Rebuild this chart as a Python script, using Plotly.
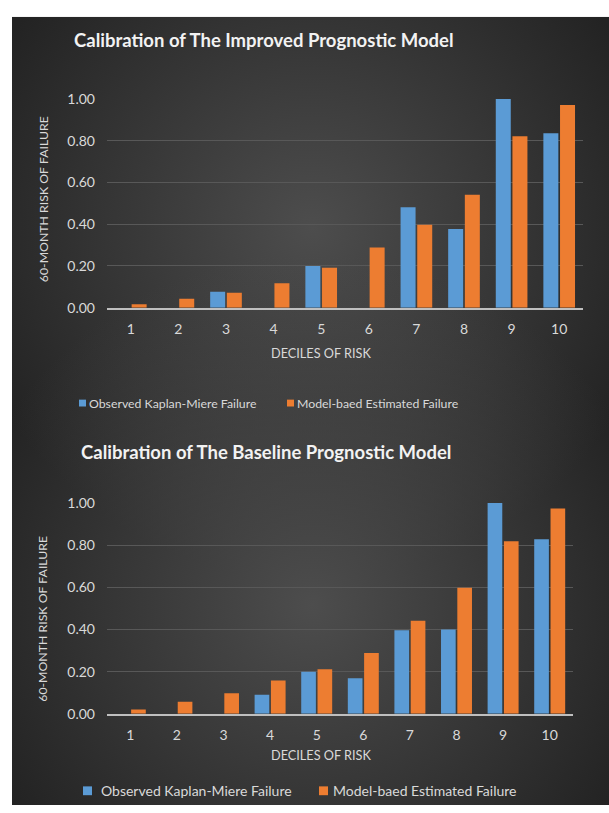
import base64
import plotly.graph_objects as go

# ---- data -------------------------------------------------------------
deciles = ["1", "2", "3", "4", "5", "6", "7", "8", "9", "10"]

improved_observed = [0.0, 0.0, 0.076, 0.0, 0.200, 0.0, 0.481, 0.377, 1.000, 0.836]
improved_model = [0.016, 0.043, 0.071, 0.117, 0.192, 0.289, 0.398, 0.542, 0.822, 0.972]

baseline_observed = [0.0, 0.0, 0.0, 0.090, 0.200, 0.169, 0.396, 0.400, 1.000, 0.828]
baseline_model = [0.020, 0.057, 0.098, 0.158, 0.212, 0.289, 0.442, 0.598, 0.819, 0.974]

y_ticks = [0.0, 0.2, 0.4, 0.6, 0.8, 1.0]

observed_name = "Observed Kaplan-Miere Failure"
model_name = "Model-baed Estimated Failure"
title_top = "Calibration of The Improved Prognostic Model"
title_bottom = "Calibration of The Baseline Prognostic Model"
y_title = "60-MONTH RISK OF FAILURE"
x_title = "DECILES OF RISK"

# ---- style ------------------------------------------------------------
W, H = 609, 813
BLUE = "#5b9bd5"
ORANGE = "#ed7d31"
TEXT = "#d9d9d9"
TITLE = "#f2f2f2"
GRID = "#585858"
AXIS = "#bfbfbf"
FONT = "Lato"


def px(x):
    return x / W


def py(y):
    return 1 - y / H


fig = go.Figure()

bar_style = dict(marker_line_width=0, showlegend=False)
fig.add_trace(go.Bar(x=deciles, y=improved_observed, name=observed_name,
                     marker_color=BLUE, xaxis="x", yaxis="y", **bar_style))
fig.add_trace(go.Bar(x=deciles, y=improved_model, name=model_name,
                     marker_color=ORANGE, xaxis="x", yaxis="y", **bar_style))
fig.add_trace(go.Bar(x=deciles, y=baseline_observed, name=observed_name,
                     marker_color=BLUE, xaxis="x2", yaxis="y2", **bar_style))
fig.add_trace(go.Bar(x=deciles, y=baseline_model, name=model_name,
                     marker_color=ORANGE, xaxis="x2", yaxis="y2", **bar_style))

common_x = dict(
    type="category", showgrid=False, zeroline=False,
    showline=True, linecolor=AXIS, linewidth=1.5,
    ticks="", ticklabelstandoff=8,
    tickfont=dict(family=FONT, size=14, color=TEXT),
)
common_y = dict(
    range=[0, 1.003], tickvals=y_ticks, tickformat=".2f",
    showgrid=True, gridcolor=GRID, gridwidth=1,
    zeroline=False, showline=False, ticks="", ticklabelstandoff=11,
    tickfont=dict(family=FONT, size=14, color=TEXT),
)

# background: dark panel with two soft radial highlights
svg = """<svg xmlns='http://www.w3.org/2000/svg' width='597' height='804' viewBox='0 0 597 804' preserveAspectRatio='none'>
<defs>
<radialGradient id='a' gradientUnits='userSpaceOnUse' cx='300' cy='215' r='360'>
<stop offset='0' stop-color='#4d4d4d' stop-opacity='1'/>
<stop offset='1' stop-color='#4d4d4d' stop-opacity='0'/>
</radialGradient>
<radialGradient id='b' gradientUnits='userSpaceOnUse' cx='300' cy='600' r='360'>
<stop offset='0' stop-color='#4d4d4d' stop-opacity='1'/>
<stop offset='1' stop-color='#4d4d4d' stop-opacity='0'/>
</radialGradient>
</defs>
<rect width='597' height='804' fill='#232323'/>
<rect width='597' height='804' fill='url(#a)'/>
<rect width='597' height='804' fill='url(#b)'/>
</svg>"""
svg_uri = "data:image/svg+xml;base64," + base64.b64encode(svg.encode()).decode()

layout_images = [dict(
    source=svg_uri, xref="paper", yref="paper",
    x=px(12), y=py(9), sizex=px(597), sizey=804 / H,
    xanchor="left", yanchor="top", sizing="stretch", layer="below",
)]

annotations = []
shapes = []


def text(x, y, s, size, color=TEXT, bold=False, angle=0, anchor="center"):
    annotations.append(dict(
        x=px(x), y=py(y), xref="paper", yref="paper", text=f"<b>{s}</b>" if bold else s,
        showarrow=False, textangle=angle, xanchor=anchor, yanchor="middle",
        font=dict(family=FONT, size=size, color=color),
    ))


def legend_row(y, sq, blue_x, blue_text_x, orange_x, orange_text_x, size):
    for x0, color in ((blue_x, BLUE), (orange_x, ORANGE)):
        shapes.append(dict(type="rect", xref="paper", yref="paper",
                           x0=px(x0), x1=px(x0 + sq), y0=py(y - sq / 2), y1=py(y + sq / 2),
                           fillcolor=color, line=dict(width=0)))
    text(blue_text_x, y, observed_name, size, anchor="left")
    text(orange_text_x, y, model_name, size, anchor="left")


# upper chart texts
text(264, 33, title_top, 18.5, color=TITLE, bold=True)
text(43, 195, y_title, 12.3, angle=-90)
text(321, 352, x_title, 12.7)
legend_row(403, 7, 79, 87, 287, 295, 12.3)

# lower chart texts
text(266, 453, title_bottom, 18.5, color=TITLE, bold=True)
text(43, 623, y_title, 12.3, angle=-90)
text(321, 762, x_title, 12.7)
legend_row(798.5, 9, 83, 99, 319, 331, 14)

fig.update_layout(
    width=W, height=H,
    margin=dict(l=0, r=0, t=0, b=0),
    paper_bgcolor="white", plot_bgcolor="rgba(0,0,0,0)",
    barmode="group", bargap=0.3, bargroupgap=0.1,
    xaxis=dict(domain=[px(107), px(583)], anchor="y", **common_x),
    yaxis=dict(domain=[py(305.7), py(92.3)], anchor="x", **common_y),
    xaxis2=dict(domain=[px(107), px(573)], anchor="y2", **common_x),
    yaxis2=dict(domain=[py(720), py(504.3)], anchor="x2", **common_y),
    images=layout_images,
    annotations=annotations,
    shapes=shapes,
    showlegend=False,
)

fig.write_html("out.html")
